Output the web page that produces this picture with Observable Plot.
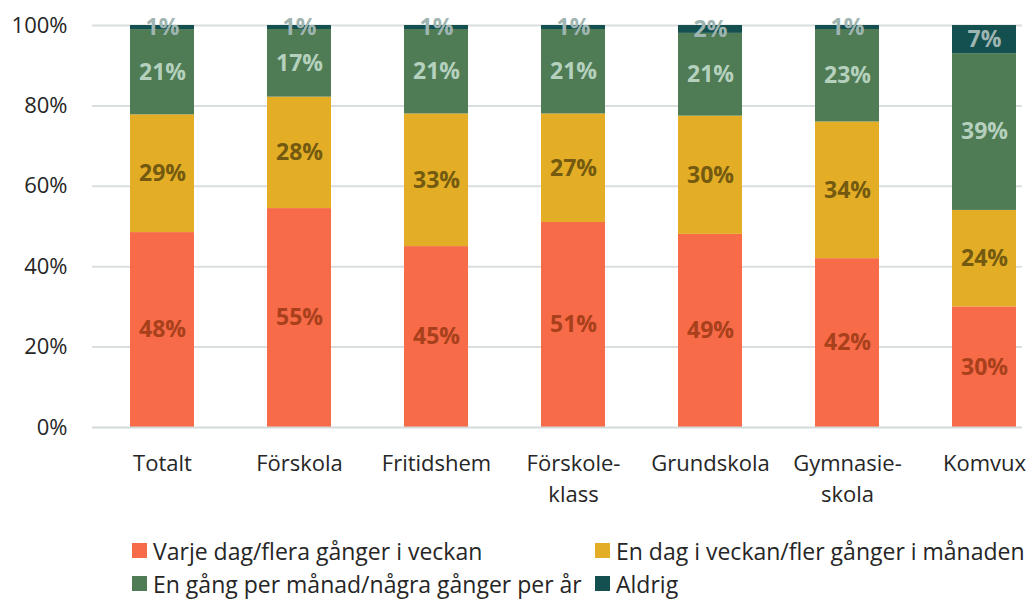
<!DOCTYPE html>
<html>
<head>
<meta charset="utf-8">
<script src="https://cdn.jsdelivr.net/npm/d3@7"></script>
<script src="https://cdn.jsdelivr.net/npm/@observablehq/plot@0.6"></script>
<style>
  html, body { margin: 0; padding: 0; background: #fff; }
  body { width: 1029px; height: 599px; overflow: hidden; font-family: "Open Sans", "Noto Sans", sans-serif; color: #262626; }
  #legend { margin-top: 14px; padding-left: 132px; display: grid; grid-template-columns: 463px auto; font-size: 23px; line-height: 30px; }
  .item { display: flex; align-items: center; height: 33px; white-space: nowrap; }
  .sw { width: 15px; height: 15px; margin-right: 6px; flex: none; }
</style>
</head>
<body>
<div id="chart"></div>
<div id="legend"></div>
<script>
// Categories (x axis)
const categories = ["Totalt", "Förskola", "Fritidshem", "Förskole-\nklass", "Grundskola", "Gymnasie-\nskola", "Komvux"];
// Series names (bottom to top)
const series = [
  "Varje dag/flera gånger i veckan",
  "En dag i veckan/fler gånger i månaden",
  "En gång per månad/några gånger per år",
  "Aldrig"
];
// Values in percent, per series
const varjeDag = [48, 55, 45, 51, 49, 42, 30];
const enDag    = [29, 28, 33, 27, 30, 34, 24];
const enGang   = [21, 17, 21, 21, 21, 23, 39];
const aldrig   = [1, 1, 1, 1, 2, 1, 7];
// Y tick labels
const yTicks = [0, 0.2, 0.4, 0.6, 0.8, 1];

const seriesValues = [varjeDag, enDag, enGang, aldrig];
const barColors = ["#F76B48", "#E3AE26", "#4F7B55", "#14504F"];
const labelColors = ["#A8401C", "#735A10", "#B5D1BE", "#9FB5B2"];

const rows = [];
categories.forEach((c, i) => {
  series.forEach((s, j) => {
    rows.push({category: c, series: s, value: seriesValues[j][i], labelColor: labelColors[j]});
  });
});

const chart = Plot.plot({
  width: 1029,
  height: 520,
  marginLeft: 92,
  marginRight: 7,
  marginTop: 25,
  marginBottom: 93,
  style: {fontFamily: '"Open Sans", "Noto Sans", sans-serif', fontSize: "22px", color: "#262626", background: "#fff"},
  x: {type: "band", domain: categories, paddingInner: 0.5334, paddingOuter: 0.157, align: 0.86, label: null},
  y: {domain: [0, 1], label: null},
  color: {domain: series, range: barColors},
  marks: [
    Plot.ruleY(yTicks.slice(1), {stroke: "#D9DEDE", strokeWidth: 2}),
    Plot.barY(rows, Plot.stackY({offset: "normalize", x: "category", y: "value", fill: "series"})),
    Plot.ruleY([0], {stroke: "#D4DADA", strokeWidth: 2}),
    Plot.text(rows, Plot.stackY({
      offset: "normalize", x: "category", y: "value",
      text: d => d.value + "%",
      fill: "labelColor",
      fontWeight: "bold",
      fontSize: 23
    })),
    Plot.axisY({ticks: yTicks, tickFormat: d3.format(".0%"), tickSize: 0, tickPadding: 25, fontSize: 22, fill: "#262626"}),
    Plot.axisX({tickSize: 0, tickPadding: 22, fontSize: 22, lineHeight: 1.4, fill: "#262626"})
  ]
});
document.getElementById("chart").appendChild(chart);

const legend = document.getElementById("legend");
series.forEach((s, j) => {
  const item = document.createElement("div");
  item.className = "item";
  const sw = document.createElement("span");
  sw.className = "sw";
  sw.style.background = barColors[j];
  const t = document.createElement("span");
  t.textContent = s;
  item.appendChild(sw);
  item.appendChild(t);
  legend.appendChild(item);
});
</script>
</body>
</html>
